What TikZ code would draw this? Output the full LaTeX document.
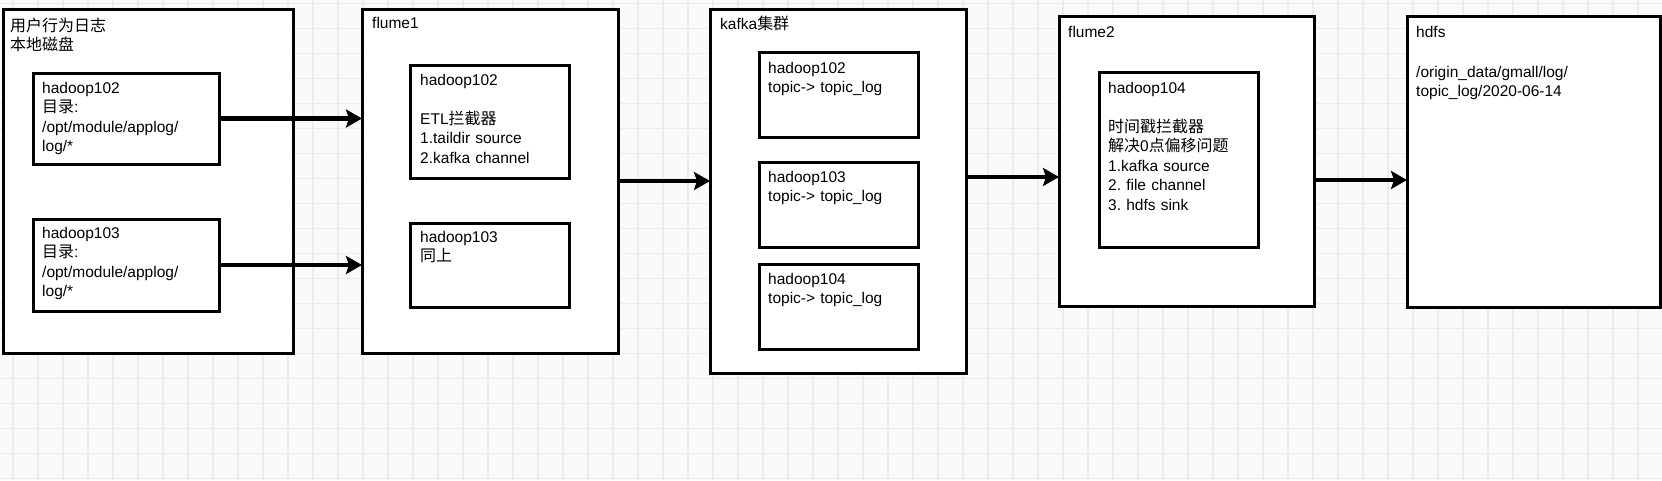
\documentclass[tikz,border=0pt]{standalone}
\usepackage{fontspec}
\setmainfont{Liberation Sans}
\newfontfamily\cjk[Scale=1.03]{Noto Sans CJK SC}
\usetikzlibrary{arrows.meta,calc}
\frenchspacing
\definecolor{bgc}{HTML}{FAFAFA}
\definecolor{gridc}{HTML}{ECECEC}
\tikzset{
  box/.style={draw=black, line width=3pt, fill=white, inner sep=0pt, outer sep=0pt, anchor=north west},
  lbl/.style={anchor=base west, inner sep=0pt, text width=240pt, align=left, font=\fontsize{15.5}{19.5}\selectfont\frenchspacing},
  flow/.style={line width=4.2pt, -{Stealth[length=16pt,width=18pt,inset=3pt]}},
  gridline/.style={draw=gridc, line width=1.6pt},
}
\begin{document}
\begin{tikzpicture}[x=1pt,y=-1pt]
\useasboundingbox (0,0) rectangle (1662,480);
\fill[bgc] (0,0) rectangle (1662,480);
\foreach \i in {0,...,66} \draw[gridline] ({12.7+25*\i},0) -- ++(0,480);
\foreach \j in {0,...,19} \draw[gridline] (0,{3.3+25*\j}) -- ++(1662,0);

% outer boxes
\node[box, minimum width=290pt, minimum height=344pt] (A) at (3,9) {};
\node[box, minimum width=256pt, minimum height=344pt] (F1) at (362,9) {};
\node[box, minimum width=256pt, minimum height=364pt] (K) at (710,9) {};
\node[box, minimum width=255pt, minimum height=290pt] (F2) at (1059,16) {};
\node[box, minimum width=253pt, minimum height=291pt] (H) at (1407,16) {};

% inner boxes
\node[box, minimum width=186pt, minimum height=91pt] (A1) at (33,73) {};
\node[box, minimum width=186pt, minimum height=92pt] (A2) at (33,219) {};
\node[box, minimum width=159pt, minimum height=113pt] (B1) at (410,65) {};
\node[box, minimum width=159pt, minimum height=84pt] (B2) at (410,223) {};
\node[box, minimum width=159pt, minimum height=85pt] (K1) at (759,52) {};
\node[box, minimum width=159pt, minimum height=85pt] (K2) at (759,162) {};
\node[box, minimum width=159pt, minimum height=85pt] (K3) at (759,264) {};
\node[box, minimum width=159pt, minimum height=175pt] (F2in) at (1099,72) {};

% texts
\node[lbl] (tA) at (10,31) {{\cjk 用户行为日志}\\{\cjk 本地磁盘}};
\node[lbl] (tA1) at (42,93) {hadoop102\\{\cjk 目录}:\\/opt/module/applog/\\log/*};
\node[lbl] (tA2) at (42,238) {hadoop103\\{\cjk 目录}:\\/opt/module/applog/\\log/*};
\node[lbl] (tF1) at (372,28) {flume1};
\node[lbl] (tB1) at (420,85) {hadoop102\\[19.5pt]ETL{\cjk 拦截器}\\1.taildir source\\2.kafka channel};
\node[lbl] (tB2) at (420,242) {hadoop103\\{\cjk 同上}};
\node[lbl] (tK) at (720,29) {kafka{\cjk 集群}};
\node[lbl] (tK1) at (768,73) {hadoop102\\topic-> topic\_log};
\node[lbl] (tK2) at (768,182) {hadoop103\\topic-> topic\_log};
\node[lbl] (tK3) at (768,284) {hadoop104\\topic-> topic\_log};
\node[lbl] (tF2) at (1068,37) {flume2};
\node[lbl] (tF2in) at (1108,93) {hadoop104\\[19.5pt]{\cjk 时间戳拦截器}\\{\cjk 解决}0{\cjk 点偏移问题}\\1.kafka source\\2. file channel\\3. hdfs sink};
\node[lbl] (tH) at (1416,37) {hdfs};
\node[lbl] (tH2) at (1416,77) {/origin\_data/gmall/log/\\topic\_log/2020-06-14};

% connectors
\draw[flow] (A1.east) -- (A1.east -| F1.west);
\draw[flow] (A2.east) -- (A2.east -| F1.west);
\draw[flow] (F1.east) -- (F1.east -| K.west);
\draw[flow] ([yshift=14pt]K.east) -- ([yshift=14pt]K.east -| F2.west);
\draw[flow] ([yshift=-19pt]F2.east) -- ([yshift=-19pt]F2.east -| H.west);
\end{tikzpicture}
\end{document}
